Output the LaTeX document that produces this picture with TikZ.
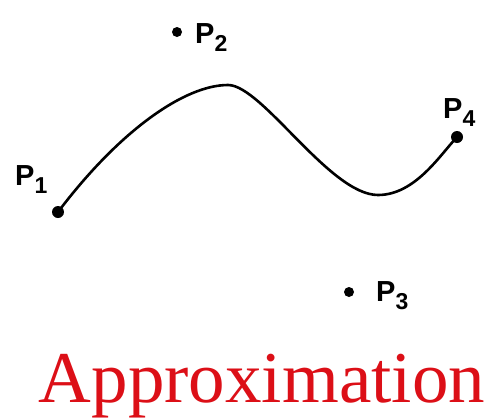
\documentclass[tikz,border=0pt]{standalone}
\usepackage{fontspec}
\setmainfont{Liberation Serif}
\setsansfont{Liberation Sans}
\usetikzlibrary{positioning}
\definecolor{approxred}{HTML}{DC0F17}
% point label with lowered index
\newcommand{\ctrlpt}[1]{P\raisebox{-8pt}{\fontsize{23}{23}\selectfont #1}}

\begin{document}
\begin{tikzpicture}[x=1pt, y=-1pt,
    ctrldot/.style={circle, fill=black, inner sep=0pt, minimum size=10pt},
    ptlabel/.style={font=\fontsize{29}{29}\selectfont\sffamily\bfseries, inner sep=0pt, anchor=base west}]
    \useasboundingbox (0,0) rectangle (492,418);

    % Control points
    \node[ctrldot, minimum size=12pt] (p1) at (58,212) {};
    \node[ctrldot] (p2) at (177,32) {};
    \node[ctrldot] (p3) at (349,292) {};
    \node[ctrldot, minimum size=12pt] (p4) at (457,137) {};

    % Labels
    \node[ptlabel] (l1) at (15,185) {\ctrlpt{1}};
    \node[ptlabel] (l2) at (195,43) {\ctrlpt{2}};
    \node[ptlabel] (l3) at (376,301) {\ctrlpt{3}};
    \node[ptlabel] (l4) at (443,118) {\ctrlpt{4}};

    % Approximating curve
    \coordinate (peak) at (228,85);
    \coordinate (trough) at (378,195);
    \draw[line width=2.6pt, line cap=round]
        (p1.center) .. controls (120,130) and (185,85) .. (peak)
        .. controls (262,85) and (330,195) .. (trough)
        .. controls (415,195) and (440,155) .. (p4.center);

    % Caption
    \node[font=\fontsize{73}{80}\selectfont, text=approxred, anchor=base, inner sep=0pt] (cap) at (262,402) {Approximation};
\end{tikzpicture}
\end{document}
